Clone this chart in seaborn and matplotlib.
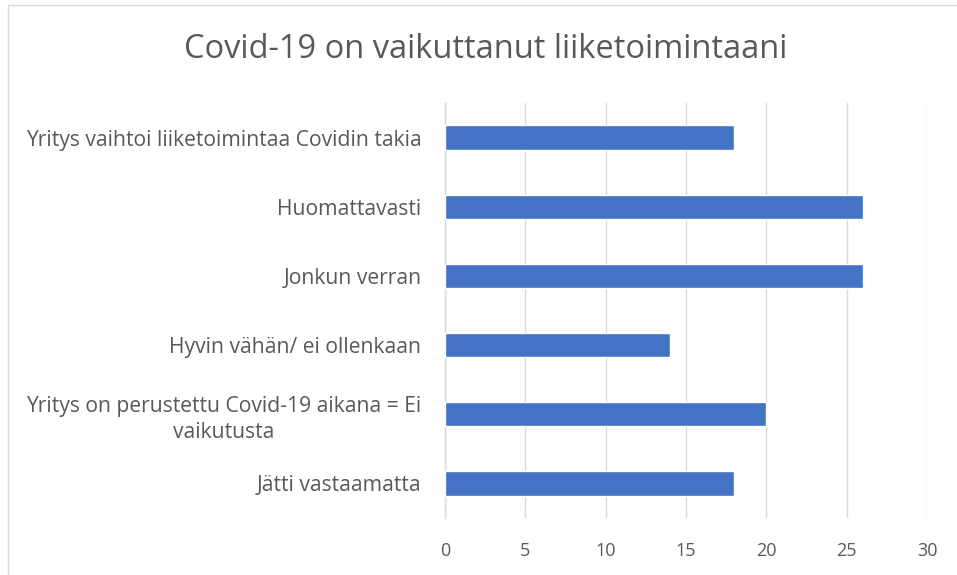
import matplotlib
matplotlib.use("Agg")
import matplotlib.pyplot as plt
import seaborn as sns
import pandas as pd
from matplotlib.patches import Rectangle

categories = [
    "Yritys vaihtoi liiketoimintaa Covidin takia",
    "Huomattavasti",
    "Jonkun verran",
    "Hyvin vähän/ ei ollenkaan",
    "Yritys on perustettu Covid-19 aikana = Ei\nvaikutusta",
    "Jätti vastaamatta",
]
values = [18, 26, 26, 14, 20, 18]
x_ticks = [0, 5, 10, 15, 20, 25, 30]
title = "Covid-19 on vaikuttanut liiketoimintaani"

sns.set_theme(style="white")
plt.rcParams["font.family"] = ["Open Sans", "DejaVu Sans"]

df = pd.DataFrame({"cat": categories, "val": values})

fig = plt.figure(figsize=(9.57, 5.75), dpi=100)
ax = fig.add_axes([445 / 957, 1 - 518 / 575, (927 - 445) / 957, (518 - 103) / 575])

sns.barplot(data=df, y="cat", x="val", orient="h", color="#4472C4",
            saturation=1, width=0.35, ax=ax, zorder=3)

ax.set_xlim(0, 30)
ax.set_xticks(x_ticks)
ax.set_xticklabels([str(t) for t in x_ticks])
ax.set_yticks(range(len(categories)))
ax.set_yticklabels(categories, multialignment="center", linespacing=1.35)
ax.grid(axis="x", color="#D9D9D9", linewidth=1, zorder=0)
ax.grid(axis="y", visible=False)
for s in ["top", "right", "bottom"]:
    ax.spines[s].set_visible(False)
ax.spines["left"].set_color("#D9D9D9")
ax.spines["left"].set_linewidth(1)
ax.set_xlabel("")
ax.set_ylabel("")
ax.tick_params(axis="both", length=0, colors="#595959")
ax.tick_params(axis="x", labelsize=13, pad=17)
ax.tick_params(axis="y", labelsize=15.2, pad=17)

fig.text(486 / 957, 1 - 50 / 575, title, ha="center", va="center",
         fontsize=23.5, color="#595959")

fig.patches.append(Rectangle((8 / 957, -0.01), 1.0, 1 - 5 / 575 + 0.01,
                             transform=fig.transFigure, fill=False,
                             edgecolor="#D9D9D9", linewidth=1))

fig.savefig("out.png", dpi=100)
